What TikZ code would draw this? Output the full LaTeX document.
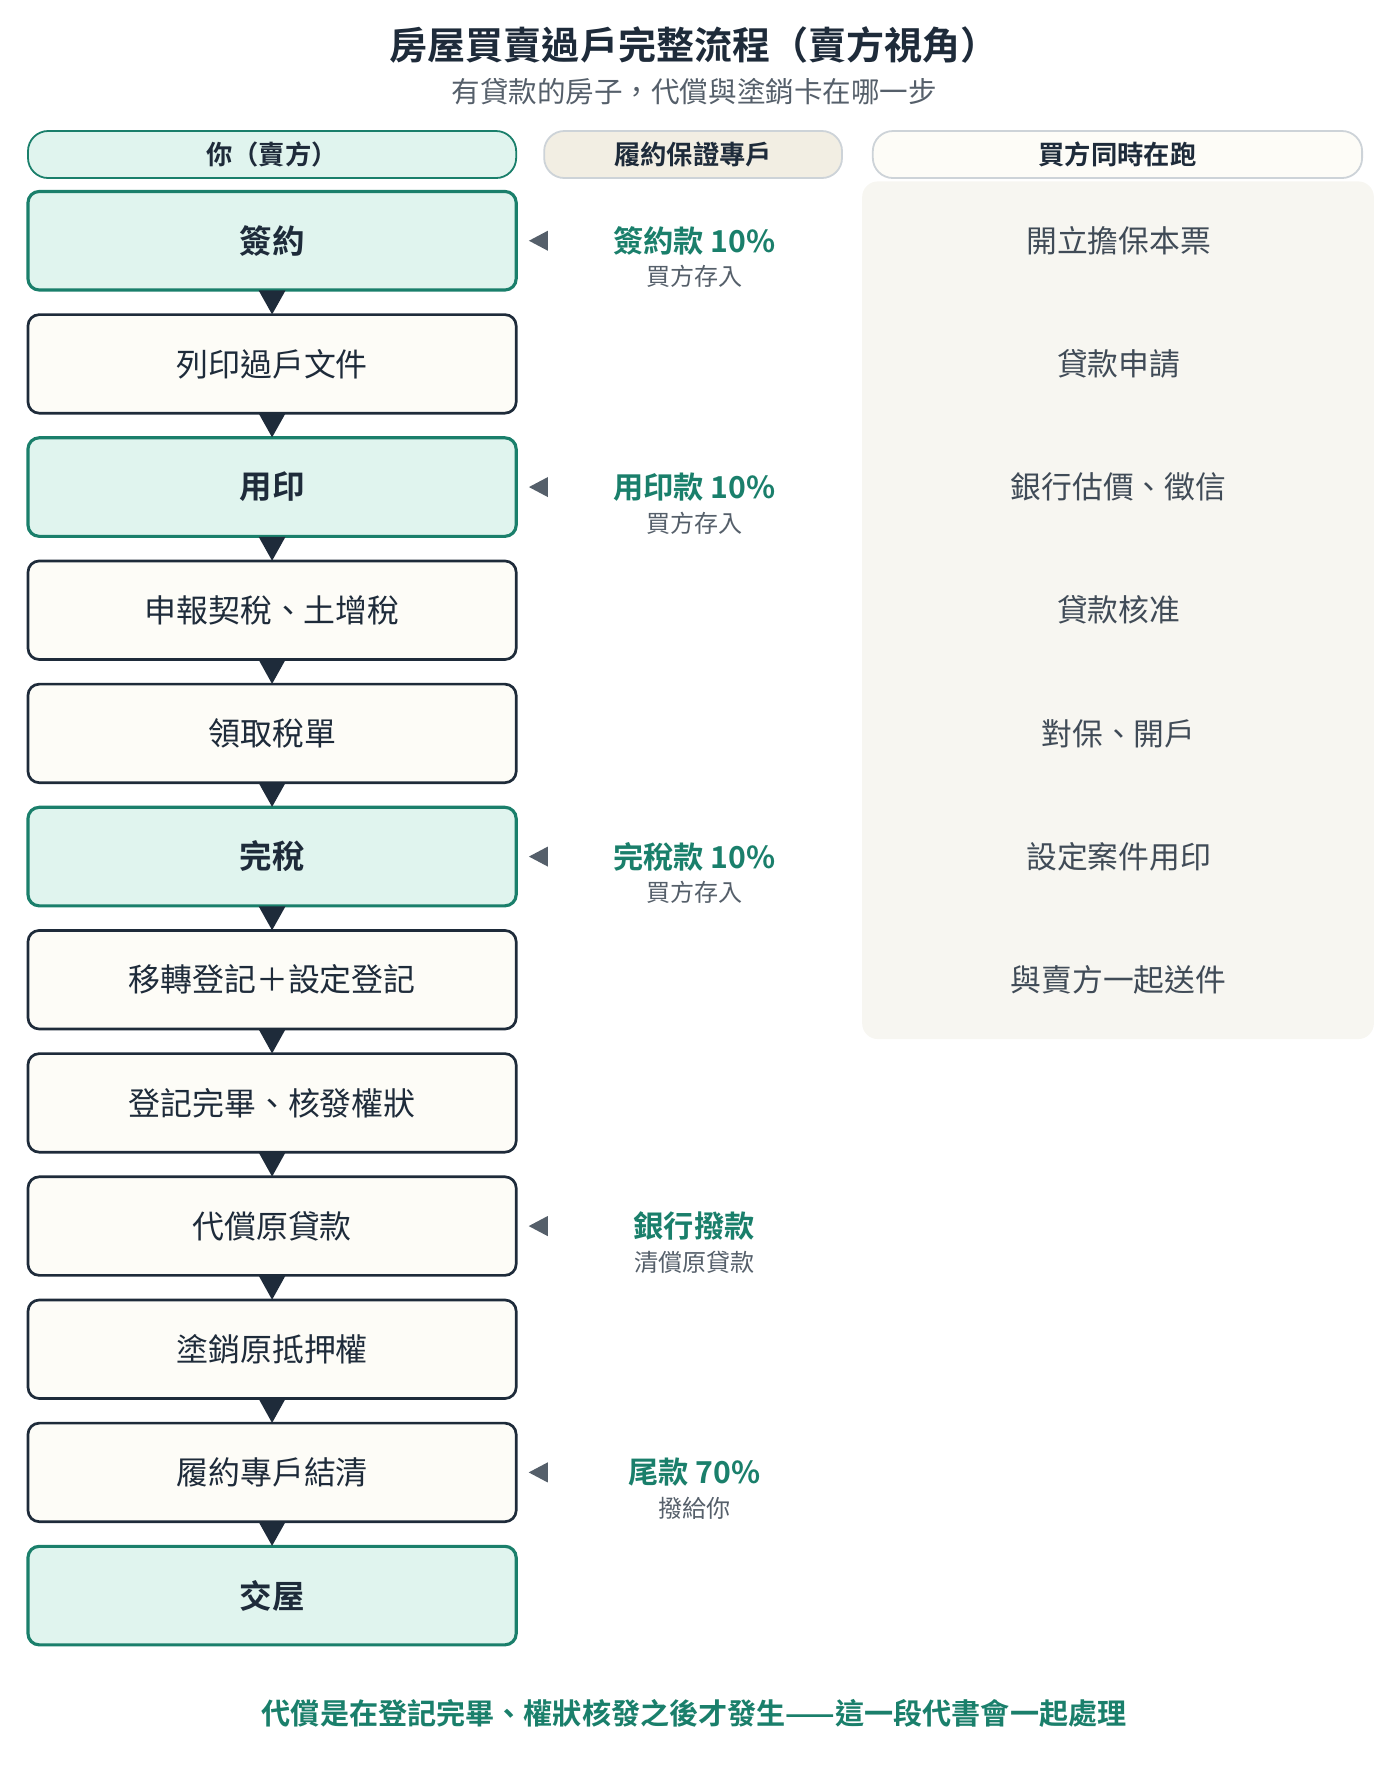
\documentclass[tikz,border=0pt]{standalone}
\usepackage{fontspec}
\usetikzlibrary{calc}
\setmainfont{Noto Sans CJK TC}[BoldFont={Noto Sans CJK TC Bold}]
\definecolor{grn}{HTML}{1A7F6B}
\definecolor{mint}{HTML}{E0F4EE}
\definecolor{dk}{HTML}{1E2B3A}
\definecolor{cream}{HTML}{FDFCF7}
\definecolor{beige}{HTML}{F2EEE3}
\definecolor{panel}{HTML}{F7F6F1}
\definecolor{gry}{HTML}{555F6A}
\definecolor{bord}{HTML}{CDD3D8}
\begin{document}
\begin{tikzpicture}[x=1pt,y=-1pt,
 stp/.style={draw=dk,line width=2.4pt,fill=cream,rounded corners=10pt,minimum width=436pt,minimum height=88pt,font=\fontsize{28.5}{32}\selectfont,text=dk},
 key/.style={stp,draw=grn,line width=2.8pt,fill=mint,font=\fontsize{29}{32}\selectfont\bfseries},
 hdr/.style={rounded corners=18pt,minimum height=42pt,line width=1.6pt,font=\fontsize{23.5}{26}\selectfont\bfseries,text=dk},
 money/.style={font=\fontsize{27}{30}\selectfont\bfseries,text=grn},
 sub/.style={font=\fontsize{21.5}{24}\selectfont,text=gry},
 buy/.style={font=\fontsize{27.5}{30}\selectfont,text=dk!85}]
\useasboundingbox (0,0) rectangle (1250,1579);
\node[font=\fontsize{34}{38}\selectfont\bfseries,text=dk] (title) at (620,40) {房屋買賣過戶完整流程（賣方視角）};
\node[font=\fontsize{25.5}{28}\selectfont,text=gry] (subt) at (620,82) {有貸款的房子，代償與塗銷卡在哪一步};
\node[hdr,draw=grn,fill=mint,minimum width=436pt] (h1) at (243,138) {你（賣方）};
\node[hdr,draw=bord,fill=beige,minimum width=266pt] (h2) at (619,138) {履約保證專戶};
\node[hdr,draw=bord,fill=cream,minimum width=437pt] (h3) at (998,138) {買方同時在跑};
\fill[panel,rounded corners=14pt] (770,162) rectangle (1227,928);
\foreach \i/\t/\s in {1/簽約/key,2/列印過戶文件/stp,3/用印/key,4/申報契稅、土增稅/stp,5/領取稅單/stp,6/完稅/key,7/移轉登記＋設定登記/stp,8/登記完畢、核發權狀/stp,9/代償原貸款/stp,10/塗銷原抵押權/stp,11/履約專戶結清/stp,12/交屋/key}
  \node[\s] (s\i) at (243,{105+110*\i}) {\t};
\foreach \i [evaluate=\i as \j using int(\i+1)] in {1,...,11}
  \fill[dk] ($(s\i.south)+(-12,-1)$) -- ($(s\i.south)+(12,-1)$) -- ($(s\j.north)+(0,1)$) -- cycle;
\foreach \i/\m/\n in {1/簽約款 10\%/買方存入,3/用印款 10\%/買方存入,6/完稅款 10\%/買方存入,9/銀行撥款/清償原貸款,11/尾款 70\%/撥給你}{
  \coordinate (a\i) at ($(s\i.east)+(10,0)$);
  \fill[gry] (a\i) -- ++(17,-9) -- ++(0,18) -- cycle;
  \node[money] (m\i) at ($(s\i.center)+(377,0)$) {\m};
  \node[sub] (n\i) at ($(s\i.center)+(377,32)$) {\n};
}
\foreach \i/\t in {1/開立擔保本票,2/貸款申請,3/銀行估價、徵信,4/貸款核准,5/對保、開戶,6/設定案件用印,7/與賣方一起送件}
  \node[buy] (b\i) at (999,{105+110*\i}) {\t};
\node[font=\fontsize{26}{30}\selectfont\bfseries,text=grn] (foot) at (620,1530) {代償是在登記完畢、權狀核發之後才發生——這一段代書會一起處理};
\end{tikzpicture}
\end{document}
